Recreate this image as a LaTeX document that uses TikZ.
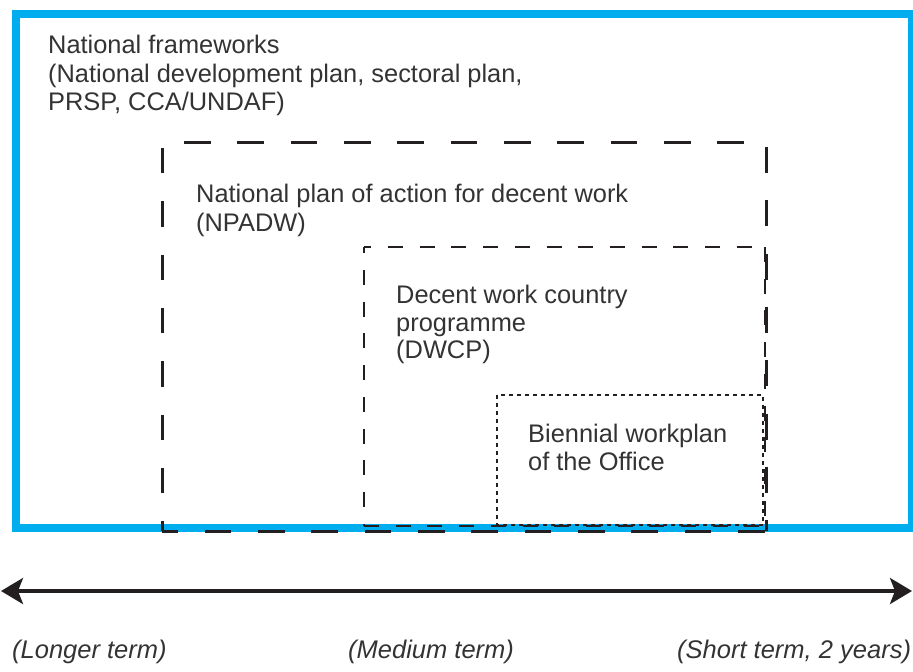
\documentclass[tikz,border=0pt]{standalone}
\usepackage{fontspec}
\setmainfont{Liberation Sans}
\usetikzlibrary{arrows.meta}
\definecolor{frameblue}{HTML}{00AEEF}
\definecolor{ink}{HTML}{231F20}
\definecolor{txt}{HTML}{333333}

\begin{document}
\begin{tikzpicture}[x=1pt,y=-1pt,
  frame/.style={draw=frameblue,line width=8pt},
  longdash/.style={draw=ink,line width=3pt,dash pattern=on 26.67pt off 26.67pt},
  middash/.style={draw=ink,line width=2.7pt,dash pattern=on 15pt off 16.7pt},
  shortdash/.style={draw=ink,line width=2.3pt,dash pattern=on 4pt off 4pt},
  boxlabel/.style={font=\fontsize{25.4}{28.5}\selectfont, text=txt, align=left, inner sep=0pt, anchor=north west},
  termlabel/.style={font=\fontsize{25.5}{28}\selectfont\itshape, text=txt, inner sep=0pt, anchor=base west},
  timeline/.style={draw=ink,line width=3.5pt,
    {Stealth[length=22pt,width=26pt,inset=5pt]}-{Stealth[length=22pt,width=26pt,inset=5pt]}}
]
\useasboundingbox (0,0) rectangle (913,672);

% outer frame: national frameworks
\coordinate (nf-nw) at (16,14);
\coordinate (nf-se) at (912,528);
\draw[frame] (nf-nw) rectangle (nf-se);

% national plan of action (long dashes, each side with its own phase)
\draw[longdash] (184,142) -- (744,142);
\draw[longdash, dash pattern=on 25.3pt off 28pt] (162,148) -- (162,531);
\draw[longdash, dash pattern=on 26pt off 27.3pt] (766,147) -- (766,531);
\draw[longdash, dash phase=10.7pt] (162,531) -- (766,531);

% decent work country programme (medium dashes)
\draw[middash, dash phase=7.7pt] (364,247) -- (765,247);
\draw[middash, dash phase=8.7pt] (364,247) -- (364,526);
\draw[middash] (364,526) -- (765,526);
\draw[middash] (765,247) -- (765,526);

% biennial workplan (short dashes)
\draw[shortdash] (497,395) rectangle (763,525);

% box captions
\node[boxlabel] (nf) at (48,35) {National frameworks\\(National development plan, sectoral plan,\\PRSP, CCA/UNDAF)};
\node[boxlabel] (np) at (196,184) {National plan of action for decent work\\(NPADW)};
\node[boxlabel, font=\fontsize{25.4}{27.5}\selectfont] (dw) at (396,285) {Decent work country\\programme\\(DWCP)};
\node[boxlabel, font=\fontsize{25.4}{28}\selectfont] (bw) at (528,424) {Biennial workplan\\of the Office};

% time axis
\coordinate (tl) at (1,591);
\coordinate (tr) at (912,591);
\draw[timeline] (tl) -- (tr);

\node[termlabel] (lt) at (12,658) {(Longer term)};
\node[termlabel] (mt) at (348,658) {(Medium term)};
\node[termlabel] (st) at (677,658) {(Short term, 2 years)};
\end{tikzpicture}
\end{document}
